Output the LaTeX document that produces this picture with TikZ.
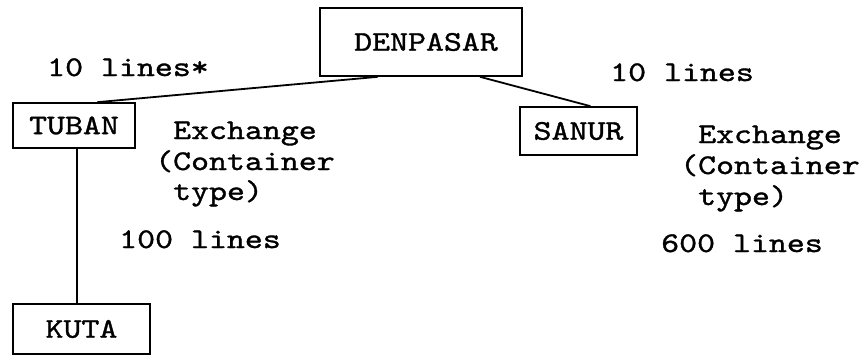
\documentclass[tikz,border=0pt]{standalone}
\usepackage{fontspec}
\setmonofont{lmmono10-regular.otf}[FakeStretch=1.2,FakeBold=1.2]
\usetikzlibrary{calc}
\tikzset{
  tw/.style={font=\ttfamily\fontsize{28.5}{30}\selectfont},
  lbl/.style={tw, inner sep=0pt, anchor=base west},
  cbox/.style={draw, line width=1.7pt, tw, inner sep=0pt},
  link/.style={line width=1.8pt}
}
\begin{document}
\begin{tikzpicture}[x=1pt,y=-1pt]
\useasboundingbox (0,0) rectangle (861,356);
% boxes
\node[cbox, minimum width=202pt, minimum height=68pt] (den) at (421,42) {\hspace*{10pt}DENPASAR};
\node[cbox, minimum width=122pt, minimum height=45pt] (tub) at (74,125.5) {TUBAN};
\node[cbox, minimum width=117pt, minimum height=48pt] (san) at (578.5,131) {SANUR};
\node[cbox, minimum width=137pt, minimum height=50pt] (kut) at (81.5,329) {KUTA};
% connectors
\draw[link] ($(den.south west)!0.287!(den.south east)$) -- ($(tub.north west)!0.69!(tub.north east)$);
\draw[link] ($(den.south west)!0.79!(den.south east)$) -- ($(san.north west)!0.6!(san.north east)$);
\draw[link] ($(tub.south west)!0.525!(tub.south east)$) -- ($(kut.north west)!0.467!(kut.north east)$);
% labels
\node[lbl] (l1) at (47,76) {10 lines*};
\node[lbl] (l2) at (610,81) {10 lines};
\node[lbl] (ex1a) at (155,139) {\phantom{(}Exchange};
\node[lbl] (ex1b) at (155,170) {(Container};
\node[lbl] (ex1c) at (155,200) {\phantom{(}type)};
\node[lbl] (ex2a) at (680,143) {\phantom{(}Exchange};
\node[lbl] (ex2b) at (680,174) {(Container};
\node[lbl] (ex2c) at (680,205) {\phantom{(}type)};
\node[lbl] (l3) at (119,248) {100 lines};
\node[lbl] (l4) at (661,252) {600 lines};
\end{tikzpicture}
\end{document}
